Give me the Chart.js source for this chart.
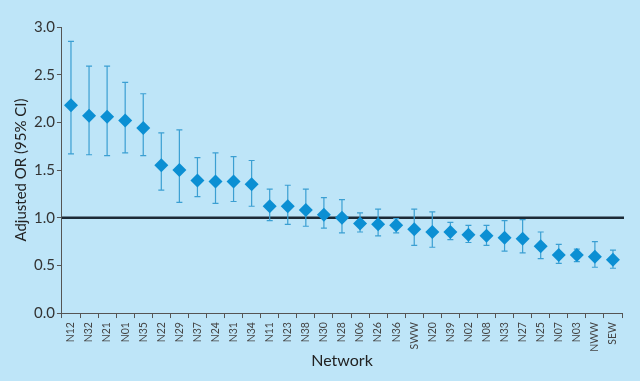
<!DOCTYPE html>
<html>
<head>
<meta charset="utf-8">
<script src="https://cdn.jsdelivr.net/npm/chart.js@4"></script>
<style>
  html, body { margin: 0; padding: 0; background: #bee5f8; }
  #wrap { width: 640px; height: 381px; }
</style>
</head>
<body>
<div id="wrap"><canvas id="myChart" width="640" height="381"></canvas></div>
<script>
// networks, sorted by adjusted OR
const networks = ['N12','N32','N21','N01','N35','N22','N29','N37','N24','N31','N34','N11','N23','N38','N30',
  'N28','N06','N26','N36','SWW','N20','N39','N02','N08','N33','N27','N25','N07','N03','NWW','SEW']
const orValues = [2.18,2.07,2.06,2.02,1.94,1.55,1.50,1.39,1.38,1.38,1.35,1.12,1.12,1.08,1.03,
  1.00,0.94,0.93,0.92,0.88,0.85,0.85,0.82,0.81,0.79,0.78,0.70,0.61,0.61,0.59,0.56]
const ciLow = [1.67,1.66,1.65,1.68,1.65,1.29,1.16,1.22,1.15,1.17,1.12,0.97,0.93,0.91,0.89,
  0.84,0.85,0.81,0.84,0.71,0.69,0.77,0.74,0.71,0.65,0.63,0.57,0.52,0.54,0.48,0.47]
const ciHigh = [2.85,2.59,2.59,2.42,2.30,1.89,1.92,1.63,1.68,1.64,1.60,1.30,1.34,1.30,1.21,
  1.19,1.05,1.09,0.99,1.09,1.06,0.95,0.92,0.92,0.97,0.98,0.85,0.72,0.67,0.75,0.66]
const yTicks = [0, 0.5, 1.0, 1.5, 2.0, 2.5, 3.0]
const refValue = 1.0

// reference line at OR = 1 and the CI whiskers
const errorBars = {
  id: 'errorBars',
  beforeDatasetsDraw(chart) {
    const {ctx, chartArea, scales: {x, y}} = chart
    ctx.save()
    // reference line
    const yRef = y.getPixelForValue(refValue)
    ctx.strokeStyle = '#1c2a36'
    ctx.lineWidth = 2.5
    ctx.beginPath()
    ctx.moveTo(chartArea.left, yRef)
    ctx.lineTo(chartArea.right + 2, yRef)
    ctx.stroke()
    // whiskers
    ctx.strokeStyle = '#3b9fd2'
    ctx.lineWidth = 1.2
    networks.forEach((n, i) => {
      const px = x.getPixelForValue(i)
      const top = y.getPixelForValue(ciHigh[i])
      const bot = y.getPixelForValue(ciLow[i])
      ctx.beginPath()
      ctx.moveTo(px, top); ctx.lineTo(px, bot)
      ctx.moveTo(px - 3, top); ctx.lineTo(px + 3, top)
      ctx.moveTo(px - 3, bot); ctx.lineTo(px + 3, bot)
      ctx.stroke()
    })
    ctx.restore()
  }
}

const ctx = document.getElementById('myChart').getContext('2d')
const myChart = new Chart(ctx, {
  type: 'line',
  data: {
    labels: networks,
    datasets: [{
      label: 'Adjusted OR',
      data: orValues,
      showLine: false,
      pointStyle: 'rectRot',
      pointRadius: 7,
      pointBackgroundColor: '#0b8fd3',
      pointBorderColor: '#0b8fd3',
      pointBorderWidth: 0
    }]
  },
  options: {
    responsive: false,
    animation: false,
    layout: { padding: { top: 27, right: 18, left: 12, bottom: 0 } },
    plugins: { legend: { display: false }, tooltip: { enabled: false } },
    scales: {
      x: {
        offset: true,
        grid: { offset: true, drawOnChartArea: false, tickLength: 5, color: '#555', lineWidth: 1 },
        border: { display: true, color: '#555', width: 1 },
        ticks: {
          minRotation: 90, maxRotation: 90, autoSkip: false,
          color: '#444', padding: 4,
          font: { family: 'Lato', size: 10.5 }
        },
        title: {
          display: true, text: 'Network', color: '#222',
          font: { family: 'Lato', size: 16 }, padding: { top: -5, bottom: 11 }
        }
      },
      y: {
        min: 0, max: 3,
        afterBuildTicks: (axis) => { axis.ticks = yTicks.map(v => ({ value: v })) },
        grid: { drawOnChartArea: false, tickLength: 5, color: '#555' },
        border: { display: true, color: '#555', width: 1 },
        ticks: {
          color: '#333', padding: 2,
          font: { family: 'Lato', size: 15 },
          callback: (v) => Number(v).toFixed(1)
        },
        title: {
          display: true, text: 'Adjusted OR (95% CI)', color: '#222',
          font: { family: 'Lato', size: 15 }, padding: { top: 0, bottom: 2 }
        }
      }
    }
  },
  plugins: [errorBars]
})
</script>
</body>
</html>
